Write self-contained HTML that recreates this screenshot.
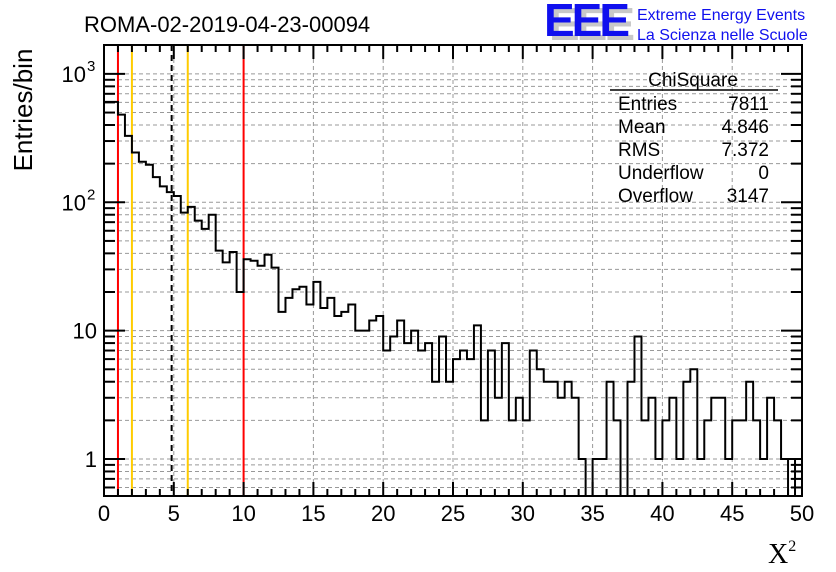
<!DOCTYPE html>
<html><head><meta charset="utf-8"><style>
html,body{margin:0;padding:0;background:#fff;}
svg{display:block;font-family:"Liberation Sans",sans-serif;}
</style></head><body>
<svg id="c" width="836" height="572" viewBox="0 0 836 572" xmlns="http://www.w3.org/2000/svg">
<text x="84" y="32" font-size="22">ROMA-02-2019-04-23-00094</text>
<g>
<text x="549" y="40" font-size="46" font-weight="bold" fill="#c8c8c8" letter-spacing="-3">EEE</text>
<text x="544" y="36" font-size="46" font-weight="bold" fill="#1010ee" letter-spacing="-3">EEE</text>
<text x="637" y="20" font-size="16" fill="#1010ee">Extreme Energy Events</text>
<text x="637" y="40" font-size="16" fill="#1010ee">La Scienza nelle Scuole</text>
</g>
<text transform="translate(32,110) rotate(-90)" text-anchor="middle" font-size="26">Entries/bin</text>
<text x="768" y="563" font-size="28" font-family="Liberation Serif,serif">X<tspan font-size="16" dy="-12">2</tspan></text>
<g id="grid"></g><g id="lines"></g><g id="hist"></g><g id="axes"></g>
<g font-size="19">
<text x="693" y="86" text-anchor="middle">ChiSquare</text>
<line x1="610" y1="90" x2="778" y2="90" stroke="#000" stroke-width="1.5"/>
<text x="618" y="110">Entries</text><text x="769" y="110" text-anchor="end">7811</text>
<text x="618" y="133">Mean</text><text x="769" y="133" text-anchor="end">4.846</text>
<text x="618" y="156">RMS</text><text x="769" y="156" text-anchor="end">7.372</text>
<text x="618" y="179">Underflow</text><text x="769" y="179" text-anchor="end">0</text>
<text x="618" y="202">Overflow</text><text x="769" y="202" text-anchor="end">3147</text>
</g>
</svg>
<script>
const counts=[605,605,482,329,244,207,196,157,133,120,112,83,92,72,62,80,42,34,41,20,36,35,32,39,31,14,18,21,22,16,24,15,18,13,14,16,10,10,12,13,7,9,12,8,10,7,8,4,9,4,6,7,6,11,2,7,3,8,2,3,2,7,5,4,4,3,4,3,1,0,1,1,4,2,0,4,9,2,3,1,2,3,1,4,5,1,2,3,3,1,2,2,4,2,1,3,2,1,1,1];
const binWidth=0.5;
const markers=[1,2,4.846,6,10];
const markerColors=["#ff0000","#ffcc00","#000000","#ffcc00","#ff0000"];
const xTicks=[0,5,10,15,20,25,30,35,40,45,50];
const yTicks=[1,10,100,1000];
const yTickBase=["1","10","10","10"];
const yTickExp=["","","2","3"];
const X0=104,X1=802,Y0=496,Y1=45,xmin=0,xmax=50,ymin=0.515,ymax=1680;
const sx=v=>X0+(v-xmin)/(xmax-xmin)*(X1-X0);
const sy=v=>{if(v<=0)return Y0;const y=Y0-(Math.log10(v)-Math.log10(ymin))/(Math.log10(ymax)-Math.log10(ymin))*(Y0-Y1);return Math.max(Y1,Math.min(Y0,y));};
const NS="http://www.w3.org/2000/svg";
function mk(parent,tag,at){const e=document.createElementNS(NS,tag);for(const k in at)e.setAttribute(k,at[k]);parent.appendChild(e);return e;}
const grid=document.getElementById('grid'),axes=document.getElementById('axes'),lines=document.getElementById('lines'),hist=document.getElementById('hist');
xTicks.forEach(t=>{if(t>xmin&&t<xmax){const l=mk(grid,'line',{x1:sx(t),x2:sx(t),y1:Y1,y2:Y0,stroke:'#999','stroke-dasharray':'4,3','stroke-width':1});

}});
const logVals=[];for(let d=-1;d<=3;d++)for(let m=1;m<=9;m++){const v=m*Math.pow(10,d);if(v>=ymin&&v<=ymax)logVals.push(v);}
logVals.forEach(v=>{const y=sy(v);const l=mk(grid,'line',{x1:X0,x2:X1,y1:y,y2:y,stroke:'#999','stroke-dasharray':'4,3','stroke-width':1});


const major=yTicks.includes(v);const len=major?21:11;
mk(axes,'line',{x1:X0,x2:X0+len,y1:y,y2:y,stroke:'#000','stroke-width':2});
mk(axes,'line',{x1:X1,x2:X1-len,y1:y,y2:y,stroke:'#000','stroke-width':2});});
yTicks.forEach((v,i)=>{
const hasExp=yTickExp[i]!=='';
const t=mk(axes,'text',{x:hasExp?86:97,y:sy(v)+8,'text-anchor':'end','font-size':22});t.textContent=yTickBase[i];


if(hasExp){const e=mk(axes,'text',{x:87,y:sy(v)-3,'font-size':15});e.textContent=yTickExp[i];

}});
for(let v=xmin;v<=xmax;v++){const major=v%5===0;const len=major?14:7;const x=sx(v);
mk(axes,'line',{x1:x,x2:x,y1:Y0,y2:Y0-len,stroke:'#000','stroke-width':2});
mk(axes,'line',{x1:x,x2:x,y1:Y1,y2:Y1+len,stroke:'#000','stroke-width':2});}
xTicks.forEach(v=>{const t=mk(axes,'text',{x:sx(v),y:521,'text-anchor':'middle','font-size':22});t.textContent=String(v);

});
markers.forEach((m,i)=>{const at={x1:sx(m),x2:sx(m),y1:Y1,y2:Y0,stroke:markerColors[i],'stroke-width':2};if(markerColors[i]==='#000000')at['stroke-dasharray']='6,4';
const l=mk(lines,'line',at);

});
let d='M'+sx(xmin)+','+Y0;
counts.forEach((c,i)=>{const xa=sx(i*binWidth),xb=sx((i+1)*binWidth),y=sy(c);d+=' L'+xa+','+y+' L'+xb+','+y;});
d+=' L'+sx(counts.length*binWidth)+','+Y0;
counts.forEach((c,i)=>{if(i>=counts.length-2){const x=sx(i*binWidth);d+=' M'+x+','+sy(c)+' L'+x+','+Y0;}});
const p=mk(hist,'path',{d:d,fill:'none',stroke:'#000','stroke-width':2});


const fr=mk(axes,'rect',{x:X0,y:Y1,width:X1-X0,height:Y0-Y1,fill:'none',stroke:'#000','stroke-width':2});


</script>
</body></html>
